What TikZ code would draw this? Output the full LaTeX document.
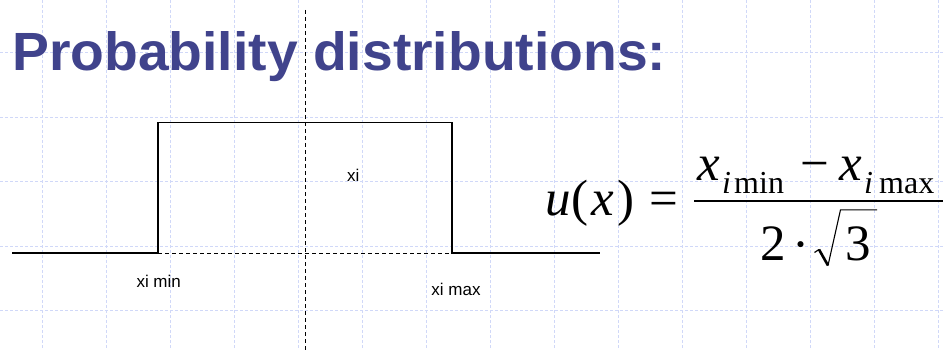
\documentclass[tikz,border=0pt]{standalone}
\usepackage{fontspec}
\setmainfont{Liberation Serif}
\newfontfamily\titlefont{Liberation Sans}
\newfontfamily\lblfont{Liberation Sans}
\definecolor{titleblue}{RGB}{64,67,140}
\definecolor{gridblue}{RGB}{208,216,248}
\begin{document}
\begin{tikzpicture}[x=1pt,y=-1pt,
  gridline/.style={draw=gridblue,line width=0.9pt,dash pattern=on 3pt off 2pt},
  axisline/.style={draw=black,line width=1.1pt,dash pattern=on 4pt off 3pt},
  pulse/.style={draw=black,line width=1.3pt},
  lbl/.style={inner sep=0pt,anchor=base,font=\lblfont\fontsize{17}{17}\selectfont},
  big/.style={inner sep=0pt,anchor=base west,font=\fontsize{51}{51}\selectfont},
  sub/.style={inner sep=0pt,anchor=base west,font=\fontsize{32}{32}\selectfont}]
\useasboundingbox (0,0) rectangle (945,350);
\fill[white] (0,0) rectangle (945,350);
% grid
\foreach \k in {0,...,14} \draw[gridline] ({42+64*\k},0) -- ({42+64*\k},350);
\foreach \y in {52.7,117.3,181.7,246,310} \draw[gridline] (0,\y) -- (945,\y);
% title
\node[inner sep=0pt,anchor=base west,text=titleblue] (title) at (12,70.7)
  {\resizebox{654pt}{39pt}{\titlefont\bfseries Probability distributions:}};
% axis
\coordinate (atop) at (305.5,10);
\coordinate (abot) at (305.5,350);
\draw[axisline] (atop) -- (abot);
% pulse
\coordinate (l0) at (12,253);
\coordinate (l1) at (158,253);
\coordinate (l2) at (158,122.5);
\coordinate (r2) at (452,122.5);
\coordinate (r1) at (452,253);
\coordinate (r0) at (600,253);
\draw[pulse] (l0) -- (l1) -- (l2) -- (r2) -- (r1) -- (r0);
\draw[axisline,line width=1pt] (l1) -- (r1);
% labels
\node[lbl,anchor=base west] (xi) at (347,181.7) {xi};
\node[lbl] (ximin) at (158.7,287) {xi min};
\node[lbl] (ximax) at (456,295.7) {xi max};
% formula
\node[big] (u) at (545,215) {\itshape u};
\node[big] (lp) at (571.5,215) {(};
\node[big] (x) at (591,215) {\itshape x};
\node[big] (rp) at (617,215) {)};
\node[big] (eq) at (649,215) {=};
% numerator
\node[big] (x1) at (697,180) {\itshape x};
\node[sub] (i1) at (722,193.5) {\itshape i};
\node[sub] (min) at (734,193.5) {min};
\node[big] (minus) at (800.5,180) {−};
\node[big] (x2) at (839,180) {\itshape x};
\node[sub] (i2) at (864,193.5) {\itshape i};
\node[sub] (max) at (879,193.5) {max};
% bar
\coordinate (b0) at (694,201.3);
\coordinate (b1) at (943,201.3);
\draw[line width=2.3pt] (b0) -- (b1);
% denominator
\node[big] (two) at (760,260) {2};
\node[big] (dot) at (792,261.5) {·};
\node[big] (three) at (845,260) {3};
\coordinate (s0) at (814.5,252.5);
\coordinate (s1) at (819,249.5);
\coordinate (s2) at (828,265.5);
\coordinate (s3) at (840.5,209.8);
\coordinate (s4) at (877,209.8);
\draw[line width=1.2pt,line join=miter] (s0) -- (s1);
\draw[line width=2.6pt] (s1) -- (s2);
\draw[line width=1.1pt,line join=miter] (s2) -- (s3) -- (s4);
\end{tikzpicture}
\end{document}
